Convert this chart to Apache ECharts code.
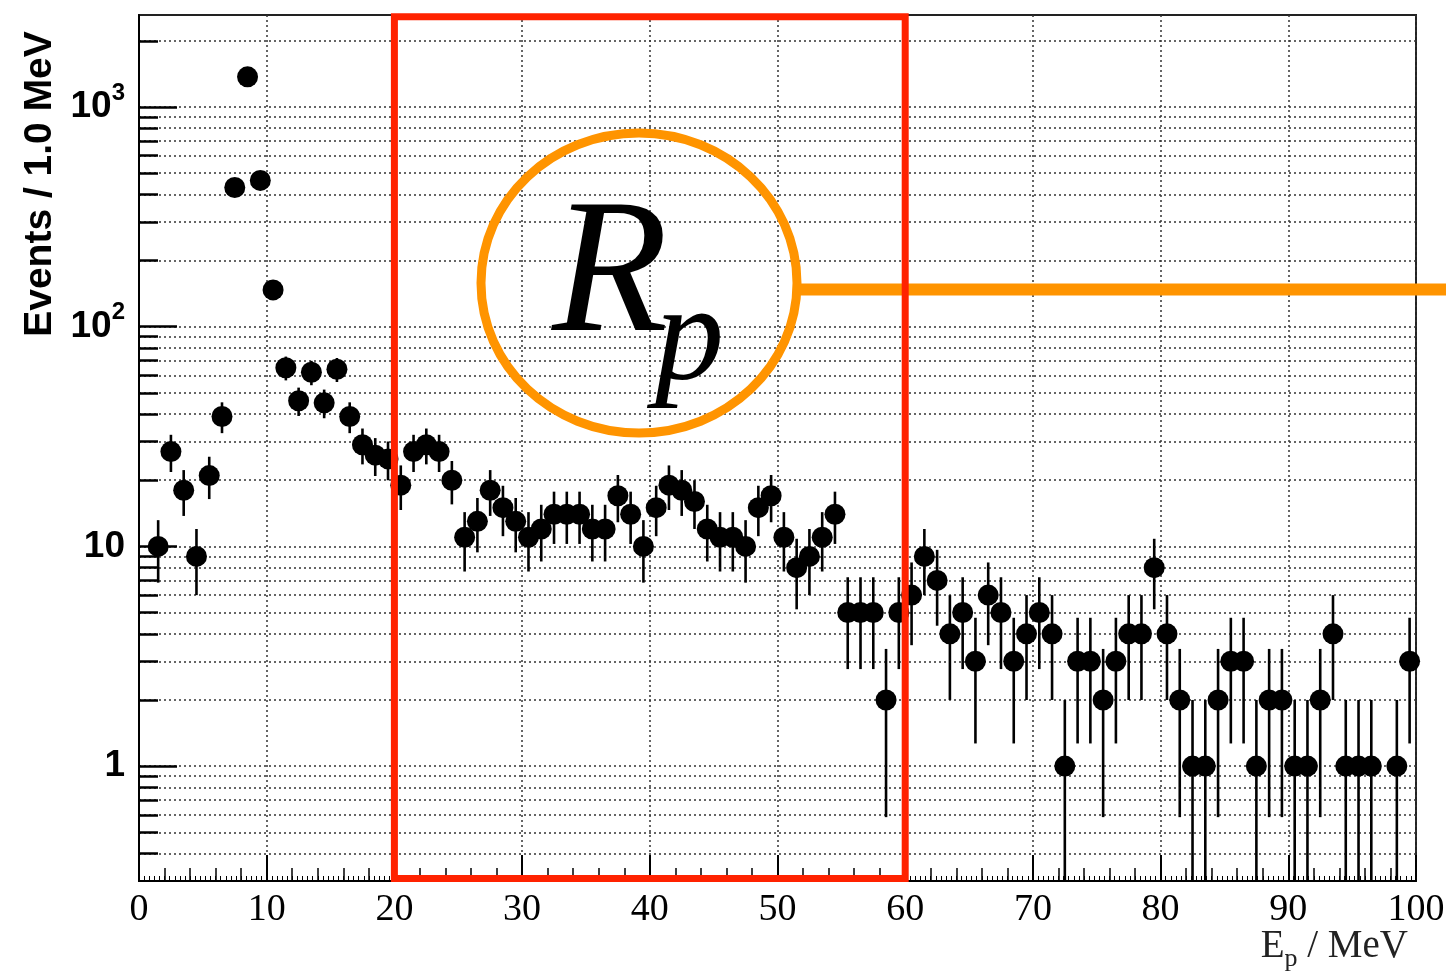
<!DOCTYPE html>
<html>
<head>
<meta charset="utf-8">
<script src="https://cdn.jsdelivr.net/npm/echarts@6/dist/echarts.min.js"></script>
<style>
html,body{margin:0;padding:0;background:#fff;}
#chart{width:1446px;height:971px;}
</style>
</head>
<body>
<div id="chart"></div>
<script>
// ---- data (1 MeV bins) ----
const binCenters = [
  0.5, 1.5, 2.5, 3.5, 4.5, 5.5, 6.5, 7.5, 8.5, 9.5,
  10.5, 11.5, 12.5, 13.5, 14.5, 15.5, 16.5, 17.5, 18.5, 19.5,
  20.5, 21.5, 22.5, 23.5, 24.5, 25.5, 26.5, 27.5, 28.5, 29.5,
  30.5, 31.5, 32.5, 33.5, 34.5, 35.5, 36.5, 37.5, 38.5, 39.5,
  40.5, 41.5, 42.5, 43.5, 44.5, 45.5, 46.5, 47.5, 48.5, 49.5,
  50.5, 51.5, 52.5, 53.5, 54.5, 55.5, 56.5, 57.5, 58.5, 59.5,
  60.5, 61.5, 62.5, 63.5, 64.5, 65.5, 66.5, 67.5, 68.5, 69.5,
  70.5, 71.5, 72.5, 73.5, 74.5, 75.5, 76.5, 77.5, 78.5, 79.5,
  80.5, 81.5, 82.5, 83.5, 84.5, 85.5, 86.5, 87.5, 88.5, 89.5,
  90.5, 91.5, 92.5, 93.5, 94.5, 95.5, 96.5, 97.5, 98.5, 99.5
];
const counts = [
  0, 10, 27, 18, 9, 21, 39, 430, 1370, 463,
  147, 65, 46, 62, 45, 64, 39, 29, 26, 25,
  19, 27, 29, 27, 20, 11, 13, 18, 15, 13,
  11, 12, 14, 14, 14, 12, 12, 17, 14, 10,
  15, 19, 18, 16, 12, 11, 11, 10, 15, 17,
  11, 8, 9, 11, 14, 5, 5, 5, 2, 5,
  6, 9, 7, 4, 5, 3, 6, 5, 3, 4,
  5, 4, 1, 3, 3, 2, 3, 4, 4, 8,
  4, 2, 1, 1, 2, 3, 3, 1, 2, 2,
  1, 1, 2, 4, 1, 1, 1, 0, 1, 3
];
// tick values
const yMajorTicks = [1, 10, 100, 1000];
const yAllTicks = [
  0.4, 0.5, 0.6, 0.7, 0.8, 0.9,
  1, 2, 3, 4, 5, 6, 7, 8, 9,
  10, 20, 30, 40, 50, 60, 70, 80, 90,
  100, 200, 300, 400, 500, 600, 700, 800, 900,
  1000, 2000
];
const fitRange = [20, 60];

const Y_MIN = 0.3, Y_MAX = 2620;

// Poisson error bars: sqrt(N)
const points = [];
binCenters.forEach((x, i) => {
  const n = counts[i];
  if (n > 0) points.push([x, n, Math.sqrt(n)]);
});

const supMap = {1: '{b|1}', 10: '{b|10}', 100: '{b|10}{s|2}', 1000: '{b|10}{s|3}'};

const gridColor = '#333';
const chart = echarts.init(document.getElementById('chart'), null, {renderer: 'canvas'});

const option = {
  backgroundColor: '#fff',
  animation: false,
  grid: {
    left: 139, top: 15, width: 1277, height: 866,
    show: true, borderColor: '#222', borderWidth: 2,
    containLabel: false, outerBoundsMode: 'none'
  },
  xAxis: [
    {
      type: 'value', min: 0, max: 100, interval: 10, position: 'bottom',
      axisLine: {show: true, onZero: false, lineStyle: {color: '#000', width: 2}},
      axisTick: {show: true, inside: true, length: 26, lineStyle: {color: '#000', width: 2}},
      axisLabel: {show: true, margin: 10, color: '#000', fontFamily: 'Liberation Serif', fontSize: 38,
        formatter: v => String(v), showMinLabel: true, showMaxLabel: true},
      splitLine: {show: true, lineStyle: {color: gridColor, width: 1.5, type: [2, 3]}}
    },
    {
      type: 'value', min: 0, max: 100, interval: 2, position: 'bottom',
      axisLine: {show: false},
      axisTick: {show: true, inside: true, length: 13, lineStyle: {color: '#000', width: 1.5}},
      axisLabel: {show: false}, splitLine: {show: false}
    },
    {
      type: 'value', min: 0, max: 100, interval: 0.4, position: 'bottom',
      axisLine: {show: false},
      axisTick: {show: true, inside: true, length: 5, lineStyle: {color: '#000', width: 1}},
      axisLabel: {show: false}, splitLine: {show: false}
    }
  ],
  yAxis: [
    {
      type: 'log', logBase: 10, min: Y_MIN, max: Y_MAX, position: 'left',
      axisLine: {show: true, lineStyle: {color: '#000', width: 2}},
      axisTick: {show: true, inside: true, length: 38, customValues: yMajorTicks,
        lineStyle: {color: '#000', width: 2.5}},
      axisLabel: {
        show: true, customValues: yMajorTicks, margin: 14, color: '#000',
        formatter: v => supMap[Math.pow(10, Math.round(Math.log10(v)))],
        rich: {
          b: {fontFamily: 'Liberation Sans', fontWeight: 'bold', fontSize: 37, color: '#000'},
          s: {fontFamily: 'Liberation Sans', fontWeight: 'bold', fontSize: 24, color: '#000',
              verticalAlign: 'top', padding: [0, 0, 28, 0]}
        }
      },
      splitLine: {show: false}
    },
    {
      type: 'log', logBase: 10, min: Y_MIN, max: Y_MAX, position: 'left',
      axisLine: {show: false},
      axisTick: {show: true, inside: true, length: 19, customValues: yAllTicks,
        lineStyle: {color: '#000', width: 2.5}},
      axisLabel: {show: false},
      splitLine: {show: true, lineStyle: {color: gridColor, width: 1.5, type: [2, 3]}}
    }
  ],
  series: [
    {
      type: 'custom', name: 'errors', xAxisIndex: 0, yAxisIndex: 0, z: 3,
      clip: true,
      data: points,
      renderItem: function (params, api) {
        const x = api.value(0), y = api.value(1), e = api.value(2);
        const lo = Math.max(y - e, Y_MIN);
        const hi = Math.min(y + e, Y_MAX);
        const p1 = api.coord([x, hi]);
        const p2 = api.coord([x, lo]);
        return {type: 'line', shape: {x1: p1[0], y1: p1[1], x2: p2[0], y2: p2[1]},
                style: {stroke: '#000', lineWidth: 2.6}};
      }
    },
    {
      type: 'scatter', name: 'data', xAxisIndex: 0, yAxisIndex: 0, z: 4,
      symbol: 'circle', symbolSize: 21,
      itemStyle: {color: '#000', opacity: 1},
      data: points.map(p => [p[0], p[1]])
    },
    {
      type: 'custom', name: 'range', xAxisIndex: 0, yAxisIndex: 0, z: 10, clip: false,
      data: [[fitRange[0], fitRange[1]]],
      renderItem: function (params, api) {
        const a = api.coord([api.value(0), 2570]);
        const b = api.coord([api.value(1), 0.308]);
        return {type: 'rect', shape: {x: a[0], y: a[1], width: b[0] - a[0], height: b[1] - a[1]},
                style: {fill: 'none', stroke: '#ff2200', lineWidth: 7}};
      }
    }
  ],
  graphic: [
    {type: 'ellipse', z: 5, shape: {cx: 639, cy: 283, rx: 158, ry: 150},
     style: {fill: 'none', stroke: '#ff9400', lineWidth: 9}},
    {type: 'line', z: 5, shape: {x1: 797, y1: 289.5, x2: 1446, y2: 289.5},
     style: {stroke: '#ff9400', lineWidth: 12}},
    {type: 'text', z: 6, x: 552, y: 280,
     style: {text: 'R', font: 'italic 190px "Liberation Serif"', fill: '#000',
             align: 'left', verticalAlign: 'middle', textAlign: 'left', textVerticalAlign: 'middle'}},
    {type: 'text', z: 6, x: 655, y: 343,
     style: {text: 'p', font: 'italic 138px "Liberation Serif"', fill: '#000',
             align: 'left', verticalAlign: 'middle', textAlign: 'left', textVerticalAlign: 'middle'}},
    {type: 'text', z: 6, x: 40, y: 184, rotation: Math.PI / 2,
     style: {text: 'Events / 1.0 MeV', font: 'bold 39px "Liberation Sans"', fill: '#000',
             align: 'center', verticalAlign: 'middle', textAlign: 'center', textVerticalAlign: 'middle'}},
    {type: 'text', z: 6, x: 1408, y: 947,
     style: {text: '{a|E}{s|p}{a| / MeV}', fill: '#000',
             align: 'right', verticalAlign: 'middle', textAlign: 'right', textVerticalAlign: 'middle',
             rich: {
               a: {fontFamily: 'Liberation Serif', fontSize: 39, fill: '#222'},
               s: {fontFamily: 'Liberation Serif', fontSize: 26, fill: '#222',
                   verticalAlign: 'bottom', padding: [24, 0, 0, 0]}
             }}}
  ]
};
chart.setOption(option);
</script>
</body>
</html>
